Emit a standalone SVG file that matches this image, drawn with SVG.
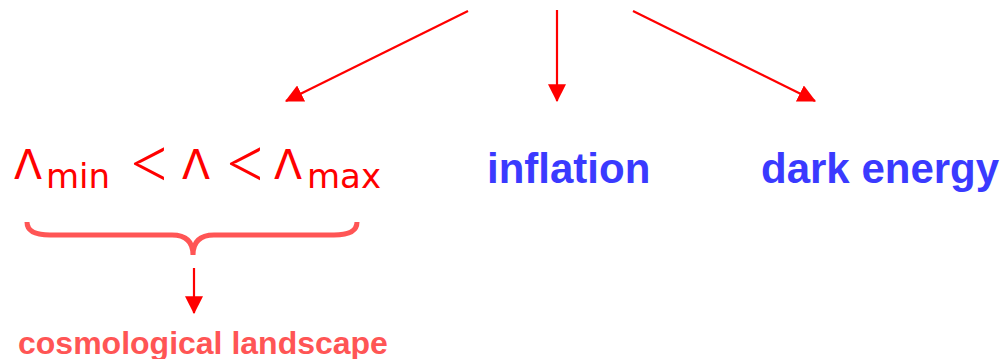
<svg xmlns="http://www.w3.org/2000/svg" width="1004" height="359" viewBox="0 0 1004 359">
<style>
.lam{font-family:"DejaVu Sans",sans-serif;fill:#ff0000;font-size:41px}
.lt{font-family:Lato,"Liberation Sans",sans-serif;font-weight:300;fill:#ff0000;font-size:80px}
.sub{font-family:"DejaVu Sans",sans-serif;fill:#ff0000;font-size:34px}
.blue{font-family:"Liberation Sans",Arial,sans-serif;font-weight:bold;fill:#3a3aff;font-size:42px}
.land{font-family:"Liberation Sans",Arial,sans-serif;font-weight:bold;fill:#ff5555;font-size:32px}
.conn{stroke:#ff0000;stroke-width:2.2;fill:none;marker-end:url(#ah)}
</style>
<defs>
<marker id="ah" markerUnits="userSpaceOnUse" markerWidth="18" markerHeight="18" viewBox="0 0 16 16" refX="15" refY="8" orient="auto">
<path d="M0,0 L16,8 L0,16 Z" fill="#ff0000"/>
</marker>
</defs>
<rect width="1004" height="359" fill="#ffffff"/>
<g id="connectors">
<line class="conn" x1="468" y1="11" x2="286" y2="101"/>
<line class="conn" x1="557" y1="10" x2="557" y2="101"/>
<line class="conn" x1="633" y1="11" x2="815" y2="101"/>
<line class="conn" x1="194" y1="268" x2="194" y2="313"/>
</g>
<g id="lambda-range">
<text class="lam" x="14" y="179">Λ</text>
<text class="sub" x="46" y="188">min</text>
<text class="lt" x="127" y="191">&lt;</text>
<text class="lam" x="182" y="179">Λ</text>
<text class="lt" x="223" y="191">&lt;</text>
<text class="lam" x="274" y="179">Λ</text>
<text class="sub" x="307" y="188">max</text>
</g>
<g id="brace">
<path d="M27,222 Q27,235 50,235 L172,235 Q193,235 193,255 Q193,235 214,235 L334,235 Q357,235 357,222" fill="none" stroke="#ff5555" stroke-width="5"/>
</g>
<g id="inflation">
<text class="blue" x="487" y="183">inflation</text>
</g>
<g id="dark-energy">
<text class="blue" x="761" y="183">dark energy</text>
</g>
<g id="landscape">
<text class="land" x="18" y="354">cosmological landscape</text>
</g>
</svg>
